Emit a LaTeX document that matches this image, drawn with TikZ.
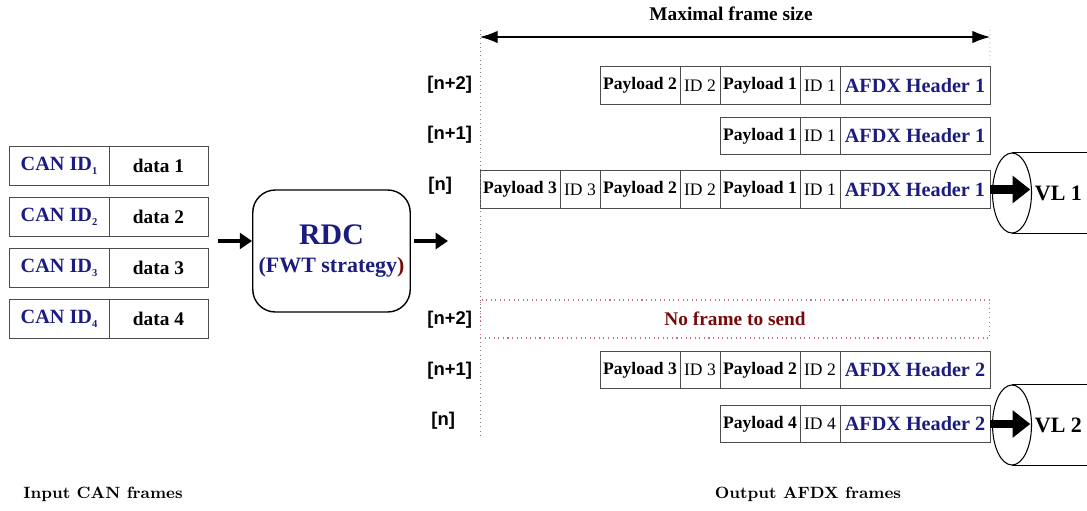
\documentclass[tikz,border=0pt]{standalone}
\usepackage{fontspec}
\newfontfamily\tms{Liberation Serif}
\newfontfamily\lsans{Liberation Sans}
\usepackage{xcolor}
\usepackage{tikz}
\usetikzlibrary{positioning,arrows.meta,shapes.geometric}
\definecolor{afdxblue}{RGB}{28,28,128}
\definecolor{nored}{RGB}{120,10,10}
\definecolor{dotred}{RGB}{205,110,120}
\newcommand{\canid}[1]{CAN ID\raisebox{-2.5pt}{\fontsize{6}{6}\selectfont #1}}

\begin{document}
\begin{tikzpicture}[x=0.02cm, y=-0.02cm,
    cell/.style={draw=gray!60!black, minimum height=0.75cm, inner sep=0pt, outer sep=0pt},
    pay/.style={cell, minimum width=1.6cm, font=\tms\fontsize{10}{12}\selectfont\bfseries},
    idf/.style={cell, minimum width=0.8cm, font=\tms\fontsize{10}{12}\selectfont},
    hdr/.style={cell, minimum width=3cm, text=afdxblue, font=\tms\fontsize{11.5}{13}\selectfont\bfseries},
    canid/.style={cell, minimum width=2cm, minimum height=0.78cm, text=afdxblue, font=\tms\fontsize{11.5}{13}\selectfont\bfseries},
    candata/.style={cell, minimum width=1.98cm, minimum height=0.78cm, font=\tms\fontsize{11}{13}\selectfont\bfseries},
    slot/.style={font=\lsans\fontsize{10.5}{12}\selectfont\bfseries, anchor=west, inner sep=0pt},
    fat/.style={line width=2.3pt, -{Triangle[width=9pt,length=7pt]}},
    vlarrow/.style={line width=4.8pt, -{Triangle[width=15pt,length=10pt]}},
    maxarrow/.style={semithick, {Latex[length=10pt,width=7pt]}-{Latex[length=10pt,width=7pt]}},
    pipe/.style={draw, ellipse, semithick, minimum width=0.78cm, minimum height=1.6cm, inner sep=0pt},
    vllbl/.style={font=\tms\fontsize{12.5}{14}\selectfont\bfseries, inner sep=0pt},
    caption/.style={font=\fontsize{9.3}{11}\selectfont\bfseries},
]
\useasboundingbox (0,0) rectangle (1087,510);

% Input CAN frames
\node[canid] (id1) at (59,166) {\canid{1}};
\node[candata, right=0pt of id1] (d1) {data 1};
\node[canid] (id2) at (59,217) {\canid{2}};
\node[candata, right=0pt of id2] (d2) {data 2};
\node[canid] (id3) at (59,268) {\canid{3}};
\node[candata, right=0pt of id3] (d3) {data 3};
\node[canid] (id4) at (59,319) {\canid{4}};
\node[candata, right=0pt of id4] (d4) {data 4};

% RDC
\node[draw, thick, rounded corners=0.45cm, minimum width=3.14cm, minimum height=2.44cm,
      align=center, text=afdxblue, font=\tms\bfseries\fontsize{12.5}{15}\selectfont] (rdc) at (331.5,251)
    {{\fontsize{17}{19}\selectfont RDC}\\[1pt](FWT strategy\textcolor{nored}{)}};
\coordinate (rin) at (218,241);
\coordinate (rout) at (448,241);
\draw[fat] (rin) -- (rin -| rdc.west);
\draw[fat, shorten <=0.06cm] (rout -| rdc.east) -- (rout);

% Maximal frame size
\coordinate (dtop) at (480,30);
\coordinate (dbot) at (480,437);
\coordinate (mtop) at (990,30);
\coordinate (ml) at (480,37);
\coordinate (mr) at (990,37);
\node[font=\tms\fontsize{11}{13}\selectfont\bfseries] (maxlbl) at (731,14) {Maximal frame size};
\draw[maxarrow] (ml) -- (mr);

% VL 1 frames
\node[slot] (s2) at (427,85) {[n+2]};
\node[pay] (t2p2) at (640,85.5) {Payload 2};
\node[idf, right=0pt of t2p2] (t2i2) {ID 2};
\node[pay, right=0pt of t2i2] (t2p1) {Payload 1};
\node[idf, right=0pt of t2p1] (t2i1) {ID 1};
\node[hdr, right=0pt of t2i1] (t2h) {AFDX Header 1};

\node[slot] (s1) at (427,135) {[n+1]};
\node[pay] (t1p1) at (760,136) {Payload 1};
\node[idf, right=0pt of t1p1] (t1i1) {ID 1};
\node[hdr, right=0pt of t1i1] (t1h) {AFDX Header 1};

\node[slot] (s0) at (428,186) {[n]};
\node[pay] (t0p3) at (520,189.5) {Payload 3};
\node[idf, right=0pt of t0p3] (t0i3) {ID 3};
\node[pay, right=0pt of t0i3] (t0p2) {Payload 2};
\node[idf, right=0pt of t0p2] (t0i2) {ID 2};
\node[pay, right=0pt of t0i2] (t0p1) {Payload 1};
\node[idf, right=0pt of t0p1] (t0i1) {ID 1};
\node[hdr, right=0pt of t0i1] (t0h) {AFDX Header 1};

\draw[dotted, gray] (dtop) -- (dbot);
\draw[dotted, gray] (mtop) -- (t2h.north east);

% VL 2 frames
\node[slot] (u2) at (427,320) {[n+2]};
\node[draw=dotred, dotted, semithick, minimum width=10.2cm, minimum height=0.76cm, text=nored,
      font=\tms\fontsize{11}{13}\selectfont\bfseries] (none) at (735,319) {No frame to send};

\node[slot] (u1) at (427,371) {[n+1]};
\node[pay] (b1p3) at (640,370) {Payload 3};
\node[idf, right=0pt of b1p3] (b1i3) {ID 3};
\node[pay, right=0pt of b1i3] (b1p2) {Payload 2};
\node[idf, right=0pt of b1p2] (b1i2) {ID 2};
\node[hdr, right=0pt of b1i2] (b1h) {AFDX Header 2};

\node[slot] (u0) at (431,421) {[n]};
\node[pay] (b0p4) at (760,424) {Payload 4};
\node[idf, right=0pt of b0p4] (b0i4) {ID 4};
\node[hdr, right=0pt of b0i4] (b0h) {AFDX Header 2};

% Virtual links
\coordinate (rim) at (1087,0);
\node[pipe] (vl1) at (1012,193) {};
\draw (vl1.north) -- (vl1.north -| rim);
\draw (vl1.south) -- (vl1.south -| rim);
\draw[vlarrow, shorten >=1pt] (t0h.east) -- (t0h.east -| vl1.east);
\node[vllbl, right=0.05cm of vl1] (vl1lbl) {VL 1};

\node[pipe] (vl2) at (1012,425) {};
\draw (vl2.north) -- (vl2.north -| rim);
\draw (vl2.south) -- (vl2.south -| rim);
\draw[vlarrow, shorten >=1pt] (b0h.east) -- (b0h.east -| vl2.east);
\node[vllbl, right=0.05cm of vl2] (vl2lbl) {VL 2};

% Captions
\node[caption] (incap) at (103,494) {Input CAN frames};
\node[caption] (outcap) at (808,494) {Output AFDX frames};

\end{tikzpicture}
\end{document}
